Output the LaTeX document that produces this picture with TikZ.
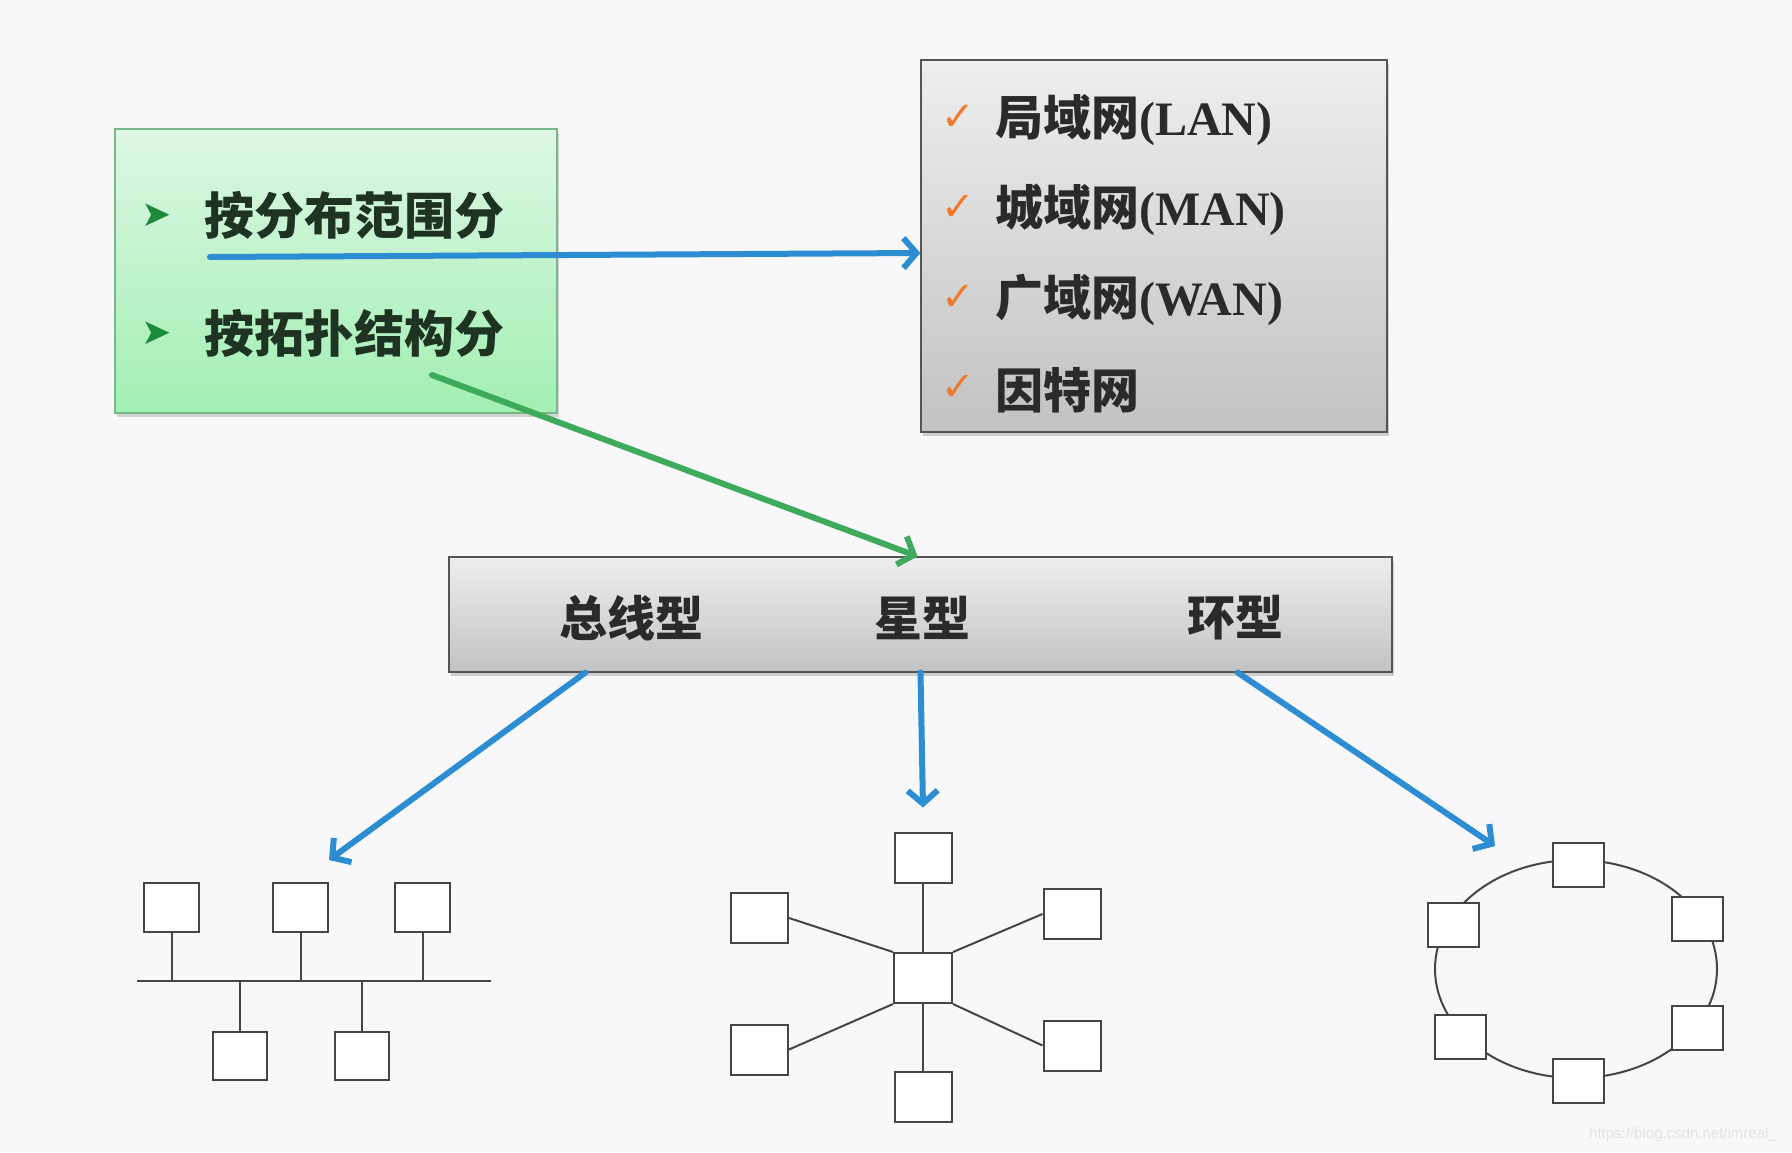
\documentclass[tikz,border=0pt]{standalone}
\usepackage{fontspec}
\usepackage{tikz}
\usetikzlibrary{positioning, calc, shadows, arrows.meta}

\newfontfamily\cjk{Noto Sans CJK SC}
\newfontfamily\lat{Liberation Serif}
\newfontfamily\sym{DejaVu Sans}
\newfontfamily\wm{Liberation Sans}

\definecolor{bgcol}{HTML}{F8F8FA}
\definecolor{greentop}{HTML}{DDF7E2}
\definecolor{greenbot}{HTML}{A2EFB4}
\definecolor{greenline}{HTML}{78B888}
\definecolor{graytop}{HTML}{EEEEEE}
\definecolor{graybot}{HTML}{C2C2C2}
\definecolor{grayline}{HTML}{555555}
\definecolor{arrblue}{HTML}{2C8DD2}
\definecolor{arrgreen}{HTML}{3DAA5C}
\definecolor{bulgreen}{HTML}{1B8A3A}
\definecolor{tickorange}{HTML}{EE7A2A}
\definecolor{textdark}{HTML}{2A2A2A}
\definecolor{textgreen}{HTML}{1F3323}
\definecolor{pcline}{HTML}{454545}

\begin{document}
\begin{tikzpicture}[x=1pt, y=-1pt]
  \tikzstyle{pc}=[draw=pcline, fill=white, line width=2pt, inner sep=0pt, minimum width=55pt, minimum height=49pt]
  \tikzstyle{wire}=[draw=pcline, line width=2pt]
  \tikzstyle{graybox}=[draw=grayline, line width=1.2pt, top color=graytop, bottom color=graybot,
    drop shadow={shadow xshift=2pt, shadow yshift=-4pt, opacity=0.35}]
  \tikzstyle{bigtext}=[inner sep=0pt, text=textdark, font=\cjk\bfseries\fontsize{48}{48}\selectfont]
  \tikzstyle{bluearr}=[draw=arrblue, line width=6pt, line cap=round, -{Straight Barb[length=13pt, width=30pt]}]
  \tikzstyle{greenarr}=[bluearr, draw=arrgreen]

  % background
  \fill[bgcol] (0,0) rectangle (1792,1152);

  % classification box
  \node (classbox) at (336,271) [draw=greenline, line width=1.2pt, top color=greentop, bottom color=greenbot,
    minimum width=442pt, minimum height=284pt, drop shadow={shadow xshift=2pt, shadow yshift=-4pt, opacity=0.3}] {};
  \foreach \i/\t in {1/按分布范围分, 2/按拓扑结构分} {
    \node (bul\i) at (157, 97+118*\i) [inner sep=0pt, text=bulgreen, font=\sym\fontsize{36}{36}\selectfont] {➤};
    \node (cls\i) at (204, 97+118*\i) [bigtext, anchor=west, text=textgreen, font=\cjk\bfseries\fontsize{50}{50}\selectfont] {\t};
  }

  % range list
  \node (lanbox) at (1154,246) [graybox, minimum width=466pt, minimum height=372pt] {};
  \foreach \i/\t in {1/{局域网{\lat\bfseries(LAN)}}, 2/{城域网{\lat\bfseries(MAN)}}, 3/{广域网{\lat\bfseries(WAN)}}, 4/{因特网}} {
    \node (tick\i) at (958, 28+90*\i) [inner sep=0pt, text=tickorange, font=\sym\fontsize{40}{40}\selectfont] {✓};
    \node (net\i) at (995, 30+90*\i) [bigtext, anchor=west] {\t};
  }

  % topology bar
  \node (topo) at (920.5,614.5) [graybox, minimum width=943pt, minimum height=115pt] {};
  \node (bustxt) at (631,618) [bigtext] {总线型};
  \node (startxt) at (922,618) [bigtext] {星型};
  \node (ringtxt) at (1235,618) [bigtext] {环型};

  % bus network
  \foreach \i/\x in {1/171.5, 2/300.5, 3/422.5}
    \node (bus\i) at (\x,907.5) [pc] {};
  \foreach \i/\x in {4/240, 5/361.5}
    \node (bus\i) at (\x,1056) [pc, minimum width=54pt, minimum height=48pt] {};
  \coordinate (busl) at (137,981);
  \coordinate (busr) at (491,981);
  \draw[wire] (busl) -- (busr);
  \foreach \i in {1,2,3}
    \draw[wire] (bus\i.south) -- (bus\i.south |- busl);
  \foreach \i in {4,5}
    \draw[wire] (bus\i.north) -- (bus\i.north |- busl);

  % star network
  \node (starc) at (923,978) [pc, minimum width=58pt, minimum height=50pt] {};
  \foreach \n/\x/\y in {top/923/857.5, bot/923/1096.5, lu/759.5/918, ru/1072/914, ll/759.5/1049.5, rl/1072/1045.5}
    \node (star\n) at (\x,\y) [pc, minimum width=57pt, minimum height=50pt] {};
  \draw[wire] (startop.south) -- (starc.north);
  \draw[wire] (starbot.north) -- (starc.south);
  \draw[wire] (starlu.east) -- (starc.north west);
  \draw[wire] (starru.west) -- (starc.north east);
  \draw[wire] (starll.east) -- (starc.south west);
  \draw[wire] (starrl.west) -- (starc.south east);

  % ring network
  \coordinate (ringc) at (1576,969);
  \draw[wire] (ringc) ellipse [x radius=141, y radius=109];
  \foreach \n/\x/\y in {top/1578.5/865, bot/1578.5/1080.5, lu/1453.5/925, ru/1697.5/918.5, ll/1460/1037, rl/1697.5/1027.5}
    \node (ring\n) at (\x,\y) [pc, minimum width=51pt, minimum height=44pt] {};

  % arrows
  \coordinate (rangestart) at (210,257);
  \coordinate (topostart) at (432,375);
  \coordinate (busin) at (329,860);
  \coordinate (ringin) at (1495,846);
  \draw[bluearr] (rangestart) -- ([yshift=-7pt]lanbox.west);
  \draw[greenarr] (topostart) -- ([xshift=-3pt]topo.north);
  \draw[bluearr] ($(topo.south west)!0.145!(topo.south east)$) -- (busin);
  \draw[bluearr] (topo.south) -- ([yshift=24pt]startop.north);
  \draw[bluearr] ($(topo.south west)!0.836!(topo.south east)$) -- (ringin);

  % watermark
  \node (mark) at (1683,1135) [inner sep=0pt, text=gray!22, font=\wm\fontsize{15}{15}\selectfont] {https://blog.csdn.net/imreal\_};
\end{tikzpicture}
\end{document}
